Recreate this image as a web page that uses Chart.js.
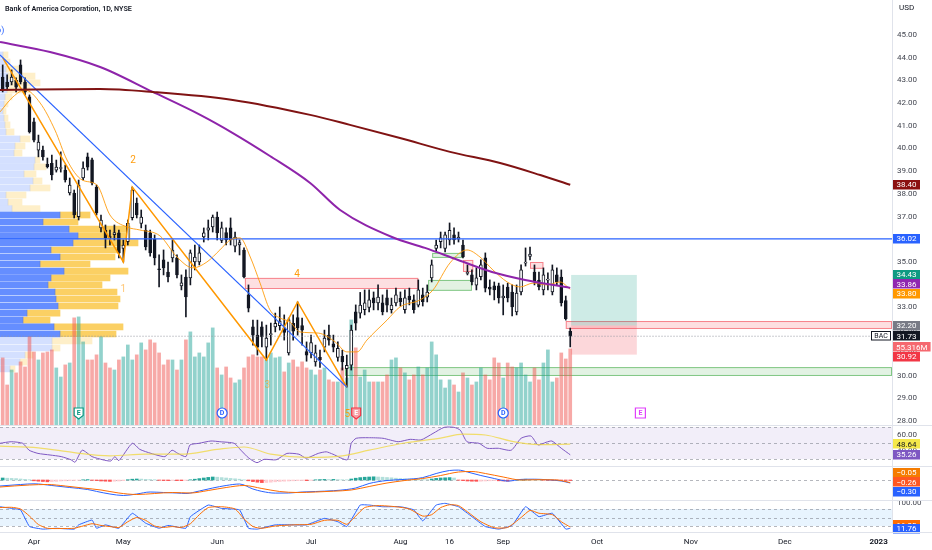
<!DOCTYPE html>
<html>
<head>
<meta charset="utf-8">
<title>BAC 1D</title>
<script src="https://cdn.jsdelivr.net/npm/chart.js@4.4.1/dist/chart.umd.min.js"></script>
<style>
  html, body { margin:0; padding:0; background:#ffffff; }
  #wrap { position:relative; width:932px; height:550px; overflow:hidden; background:#ffffff; }
  #wrap canvas { position:absolute; left:0; }
  .sep { position:absolute; background:#E0E3EB; }
</style>
</head>
<body>
<div id="wrap">
  <canvas id="vpCanvas" width="892" height="425" style="top:0px"></canvas>
  <canvas id="mainCanvas" width="932" height="425" style="top:0px"></canvas>
  <canvas id="rsiCanvas" width="932" height="41" style="top:425px"></canvas>
  <canvas id="macdCanvas" width="932" height="34" style="top:466px"></canvas>
  <canvas id="stochCanvas" width="932" height="50" style="top:500px"></canvas>
  <div class="sep" style="left:892px;top:0px;width:1px;height:532px"></div>
  <div class="sep" style="left:0px;top:425px;width:932px;height:1px"></div>
  <div class="sep" style="left:0px;top:466px;width:932px;height:1px"></div>
  <div class="sep" style="left:0px;top:500px;width:932px;height:1px"></div>
  <div class="sep" style="left:0px;top:532px;width:932px;height:1px"></div>
</div>
<script>
const FONT = 'Roboto, "Noto Sans", "DejaVu Sans", sans-serif';
Chart.defaults.font.family = FONT;

// ---------------- DATA ----------------
const open = [
43.15,42.93,42.93,43.00,43.68,42.93,42.27,41.17,39.93,39.93,
39.30,39.35,39.05,39.12,39.05,38.04,38.04,37.00,38.70,39.63,
39.50,38.30,36.50,36.40,36.10,36.20,36.28,35.60,35.90,36.95,
37.60,36.70,36.40,36.28,36.00,34.68,35.09,34.56,35.18,35.18,
33.95,34.34,34.30,35.00,35.00,36.10,36.40,36.55,36.98,35.95,
36.30,36.50,35.70,35.75,35.53,33.55,32.14,31.78,32.14,31.25,
31.80,32.14,32.20,32.10,31.00,32.30,32.55,32.20,31.05,31.00,
30.60,30.80,31.25,31.78,31.40,30.80,30.85,30.30,30.46,32.80,
32.75,32.90,33.00,33.42,33.20,33.20,33.42,32.90,33.20,33.40,
32.90,33.50,33.33,33.10,33.55,33.45,34.30,35.60,35.90,35.60,
35.97,36.20,36.00,35.75,34.50,34.43,33.98,34.35,35.18,33.90,
33.95,33.95,33.42,33.90,33.68,32.80,33.68,34.95,35.25,34.56,
34.20,33.77,34.20,33.68,34.43,34.34,33.30,31.95];
const high = [
43.68,43.24,43.46,43.11,43.90,43.11,42.36,41.34,40.59,40.11,
39.58,39.71,39.49,39.85,39.27,38.70,38.17,38.61,39.41,39.80,
39.58,38.39,37.07,36.63,36.41,36.63,36.41,35.97,36.85,38.30,
37.82,37.29,36.63,36.41,36.19,35.31,35.53,35.00,35.97,35.31,
34.43,34.65,35.53,35.75,35.75,36.50,36.85,37.07,37.20,36.76,
36.50,36.94,36.32,35.97,35.62,33.99,32.44,32.44,32.36,32.22,
32.31,32.75,33.02,32.67,32.53,32.67,33.24,32.53,31.48,31.78,
31.34,31.12,32.00,32.22,31.78,31.48,31.12,30.90,32.22,33.11,
33.66,33.77,33.77,33.68,33.99,33.55,33.77,33.41,33.85,33.68,
33.77,33.85,33.55,34.21,33.85,33.99,35.09,35.97,36.32,36.32,
36.72,36.50,36.32,35.97,34.87,34.65,34.74,35.09,35.40,34.21,
34.12,34.07,33.99,34.07,33.99,33.99,34.87,35.62,35.66,34.87,
34.56,34.74,34.52,34.87,34.74,34.65,33.50,32.09];
const low = [
42.49,42.58,42.80,42.49,42.84,42.36,40.68,40.29,39.63,39.49,
39.14,38.61,38.96,38.96,38.52,37.95,36.94,36.85,38.61,39.05,
38.39,37.07,36.32,35.62,35.75,35.97,35.18,35.00,35.75,36.85,
36.94,36.50,35.53,35.26,34.87,33.90,34.43,34.12,35.00,34.30,
33.77,32.58,33.99,34.65,34.87,35.88,35.97,36.32,35.97,35.85,
35.75,35.75,35.44,35.31,34.30,32.80,31.34,30.90,31.26,30.68,
31.34,31.92,32.00,31.56,30.90,31.56,31.78,31.34,30.63,30.77,
30.41,30.36,31.04,31.34,31.04,30.63,30.24,29.49,30.24,32.00,
32.53,32.67,32.80,32.89,32.89,32.67,32.80,32.75,33.06,33.06,
32.75,33.11,32.75,33.02,33.06,33.24,34.12,35.44,35.62,35.44,
35.75,35.79,35.88,35.18,34.43,33.99,33.77,34.21,33.68,33.55,
33.33,33.19,32.67,33.24,32.62,32.67,33.55,34.82,35.09,33.99,
33.77,33.55,33.77,33.55,33.99,33.06,32.44,31.26];
const close = [
42.58,42.71,43.15,42.70,42.93,42.49,40.73,40.37,40.28,39.63,
39.20,38.83,39.18,39.14,38.61,38.39,37.07,38.39,39.14,39.18,
38.48,37.16,36.85,36.06,36.08,36.30,35.40,35.75,36.70,38.17,
37.07,36.98,35.66,35.40,35.18,34.66,34.74,34.34,35.53,34.43,
34.08,33.46,35.40,35.22,35.40,36.28,36.50,36.98,36.28,36.50,
35.97,35.97,36.10,35.85,34.34,32.97,31.78,31.25,31.70,31.65,
31.82,32.30,32.40,31.90,32.45,31.95,32.10,32.00,30.90,31.45,
31.00,30.70,31.65,31.56,31.25,31.20,30.60,30.45,32.00,32.30,
33.10,33.20,33.33,33.20,33.46,32.80,33.10,33.10,33.55,33.25,
33.42,33.33,32.90,33.77,33.25,33.68,34.87,35.75,36.06,36.20,
36.40,35.97,36.10,35.22,34.52,34.12,34.30,34.87,33.85,33.80,
33.77,33.42,33.50,33.42,33.02,33.63,34.65,34.97,35.35,34.12,
33.90,34.43,34.22,34.65,34.12,33.20,32.50,31.73];
// volume in millions
const volume = [
48.8,29.1,40.0,37.9,45.9,42.2,64.1,53.1,47.3,52.4,
53.1,54.6,41.5,34.9,43.7,45.1,77.9,78.6,60.4,47.3,
47.3,51.0,64.1,45.1,41.5,40.0,47.3,49.5,58.2,47.3,
51.0,59.7,54.6,61.9,59.7,52.4,43.7,47.3,47.3,40.0,
47.3,61.9,67.7,49.5,52.4,49.5,59.7,70.6,41.5,36.4,
42.2,34.2,30.6,32.8,41.5,49.5,51.0,49.5,49.5,47.3,
52.4,48.8,49.5,38.6,45.1,47.3,42.2,45.9,41.5,40.0,
36.4,40.0,41.5,32.8,31.3,31.3,41.5,34.2,76.4,56.1,
34.9,40.0,31.3,31.3,31.3,31.3,36.4,47.3,48.8,41.5,
37.9,32.8,36.4,42.2,36.4,41.5,60.4,51.0,32.8,26.9,
32.8,29.1,24.0,37.9,34.2,29.1,31.3,41.5,36.4,32.8,
48.8,45.1,34.2,45.1,42.2,41.5,45.1,36.4,31.3,41.5,
32.8,45.1,54.6,31.3,34.2,52.4,48.0,55.316];

// Volume profile rows (price level, up volume, down volume)
const vpPrice = [44.12,43.81,43.50,43.19,42.89,42.58,42.27,41.96,41.65,41.34,41.04,40.73,40.42,40.11,39.80,39.49,39.19,38.88,38.57,38.26,37.95,37.64,37.35,
  37.07,36.76,36.45,36.15,35.84,35.53,35.22,34.91,34.60,34.30,33.99,33.68,33.37,33.06,32.75,32.44,32.14,31.83,
  31.52,31.21,30.90,30.59,30.29];
const vpUp = [3,5,6,8,10,7,5,4,3,4,5,6,20,15,14,35,34,24,33,30,6,8,12,
  60,43,69,78,73,51,60,40,64,51,48,55,56,58,27,23,54,60,
  52,52,25,20,10];
const vpDown = [5,5,14,27,30,23,7,4,3,4,5,8,10,10,8,5,12,12,9,20,20,14,28,
  30,35,61,52,65,69,55,50,64,59,54,62,64,60,33,27,69,56,
  40,8,8,7,5];
const vaHigh = 37.2, vaLow = 31.7;

// Moving averages (bar index, price)
const ma100X = [-0.6,10.6,21.8,33.6,44.2,51.5,59.8,68.8,75.5,87.1,94.5,101.9,109.5,116.9,127];
const ma100Y = [44.69,44.25,43.59,42.49,41.48,40.68,39.67,38.48,37.29,36.10,35.62,35.09,34.56,34.21,33.86];
const ma200X = [-0.6,21.8,33.6,51.5,68.8,77.7,88.9,100.1,111.3,120.3,127];
const ma200Y = [42.58,42.62,42.49,42.14,41.48,41.04,40.46,39.85,39.36,38.83,38.40];
const emaX = [-0.6,2.3,5,8.4,11.7,14.4,17.8,21.1,24,27.8,30.7,35.2,39,42.6,45.7,48.6,50.9,53.1,55.4,57.6,59.8,62.1,64.3,66.5,70.6,74.4,77,79.3,81.5,86,88.9,93.4,96.3,100.1,103.9,106.8,109.7,112.9,115.8,118.7,121.8,124.7,127];
const emaY = [41.61,42.27,42.58,42.0,40.81,39.49,38.61,38.39,37.07,36.54,36.41,36.15,35.22,34.74,35.0,35.53,35.97,36.06,35.22,34.07,32.89,32.53,32.36,31.92,31.87,31.48,31.04,31.04,31.56,32.44,33.02,33.33,33.77,34.96,35.53,35.22,34.65,34.12,33.90,34.07,33.99,34.12,33.80];

// Drawings
const trendX = [-0.6, 77];
const trendY = [44.12, 29.49];
const hLineLevel = 36.02;
const waveX = [0, 27, 29, 59, 66, 77];
const waveY = [44.0, 35.0, 38.30, 30.68, 33.24, 29.49];
const waveLabel = ['1','2','3','4','5'];
const waveLabelX = [27, 29.2, 59.2, 65.9, 77.1];
const waveLabelY = [33.81, 39.49, 29.54, 34.47, 28.30];
const zoneX1 = [54.2, 96.1, 95.2, 103, 118, 126, 76.6];
const zoneX2 = [93, 103.0, 105, 105.3, 121, 199, 199];
const zoneTop = [34.30, 35.40, 34.21, 35.09, 35.00, 32.40, 30.37];
const zoneBot = [33.81, 35.18, 33.73, 34.56, 34.70, 32.05, 29.98];
const zoneKind = ['supply','demand','demand','supply','supply','supply','demand'];
const longX = [127.2, 141.9];
const longTarget = 34.43, longEntry = 32.20, longStop = 30.92;
const iconX = [17, 49.1, 79.1, 112, 142.7];
const iconKind = ['earnPast','div','earnRed','div','earnFuture'];

// Price axis ticks
const priceTicks = [28,29,30,31,32,33,34,35,36,37,38,39,40,41,42,43,44,45];

// RSI
const rsiX = [-0.6,1.9,4.5,5.9,7.9,10.6,13.1,15.3,16.2,17.8,20,22.4,24.2,25.1,26,29,30.7,33.2,36.3,37.9,39.2,41,41.9,43.9,46.6,48.6,51.8,53.3,55.1,56.9,58.5,61.2,63.6,66.3,67.9,70.6,72.4,73.9,77.1,78,79.1,81.8,85.1,88.5,91.2,93.6,96.3,98.8,101,102.4,103.9,106.6,108.4,110.9,113.8,116,118.2,119.8,121.6,122.9,125,127];
const rsiY = [49.6,51.6,49.6,41,37,35,33,29,26,41,33,29,27.5,33,28,49.6,42,37,33,41,37,33,47.5,49.6,52.5,51.6,49.6,41,31,25.4,29.6,29,37,36,31,37,39,36,29,49.6,55.9,56.6,55.9,51.6,54.6,53.8,62,69.6,69.6,66,51.6,49.6,43.4,43.4,41,55.9,58.8,47.5,50.9,52.5,43.4,35.26];
const rsiMaX = [-0.6,8,16,24,32,40,48,54,60,68,76,82,90,98,103,108,114,120,127];
const rsiMaY = [46,44,38,34,36,36,42,45,36,32,34,41,50,56,61,60,52,48,48.64];
const rsiBands = [70, 50, 30];
const rsiTicks = [60, 40];

// MACD
const macdX = [-0.6,4,7,11,15,19,21,24,27,30,33,36,39,41,44,47,50,53,56,58,61,64,67,70,74,77,79,82,86,90,94,97,100,102,104,107,110,113,116,119,122,125,127];
const macdY = [-0.6,-0.45,-0.38,-0.55,-0.75,-0.95,-1.14,-1.4,-1.55,-1.4,-1.2,-1.25,-1.3,-1.35,-1.1,-0.8,-0.55,-0.4,-0.9,-1.14,-1.31,-1.3,-1.2,-1.15,-1.07,-0.95,-0.8,-0.35,-0.05,0.06,0.24,0.65,0.95,0.99,0.8,0.45,0.15,-0.11,0.06,0.08,0.02,-0.1,-0.30];
const signalX = [-0.6,6,10,14,18,22,26,30,34,38,42,46,50,54,58,62,66,70,74,78,82,86,90,94,98,102,105,108,112,116,120,124,127];
const signalY = [-0.7,-0.5,-0.45,-0.6,-0.8,-1.0,-1.3,-1.45,-1.35,-1.25,-1.3,-1.05,-0.75,-0.55,-0.85,-1.15,-1.25,-1.2,-1.12,-1.0,-0.65,-0.3,-0.05,0.15,0.45,0.8,0.85,0.65,0.3,0.0,0.03,0.0,-0.26];
const macdHist = [
0.2,0.18,0.16,0.14,0.1,0.07,0.03,
-0.08,-0.12,-0.15,-0.18,-0.16,-0.14,-0.1,-0.08,-0.06,-0.04,-0.02,
0.02,0.04,
-0.03,-0.06,-0.1,-0.12,-0.14,-0.12,-0.1,-0.07,
0.03,0.08,0.1,0.09,0.07,0.05,0.03,
-0.03,-0.05,-0.06,-0.05,-0.06,-0.07,-0.04,
0.02,0.08,0.14,0.2,0.26,0.3,0.28,
0.24,0.2,0.16,0.12,0.08,0.02,
-0.08,-0.16,-0.22,-0.26,-0.25,-0.22,-0.18,
-0.15,-0.12,-0.1,-0.08,-0.07,-0.05,-0.06,-0.04,
0.02,0.04,0.06,0.05,0.06,0.04,0.03,0.02,
0.1,0.18,0.24,0.28,0.3,0.32,0.3,0.28,0.25,
0.22,0.18,0.15,0.12,0.1,0.08,0.06,0.05,0.04,
0.1,0.16,0.2,0.22,0.24,0.2,
-0.02,-0.06,-0.1,-0.12,-0.13,-0.12,-0.1,-0.08,-0.06,
-0.08,-0.1,-0.12,-0.1,
0.02,0.05,0.08,0.07,0.05,0.03,
-0.01,-0.02,-0.02,-0.03,-0.03,-0.04,-0.05];

// Stochastic
const stKX = [-0.6,2,4,6,9,12,16,17,20,21,23,26,29,32,35,37,41,42,46,49,53,55,57,61,65,68,72,75,77,80,82,85,89,92,94,97,99,102,105,108,111,114,117,120,123,126,127];
const stKY = [88,82,77,18,9,12,9,24,41,12,24,12,65,30,12,22,12,53,94,82,77,12,9,24,24,24,47,35,18,94,94,88,88,77,38,94,100,88,53,18,9,22,88,53,65,9,11.76];
const stDX = [-0.6,2,4,6,8,10,13,16,18,20,22,24,26,28,30,32,34,36,38,40,42,44,46,49,52,54,56,58,61,65,69,72,75,77,79,81,84,88,91,94,96,98,100,102,104,107,110,113,116,118,120,123,125,127];
const stDY = [85,86,80,55,25,12,11,12,20,28,22,18,15,35,50,40,20,15,18,15,28,60,85,88,80,45,18,12,20,24,26,40,40,26,55,85,92,88,80,55,60,85,95,92,70,35,14,15,50,75,65,60,35,16];
const stochBands = [80, 50, 20];
const stochTicks = [100];

// Time axis
const xTickIdx = [7, 27, 48, 69, 89, 100, 112, 133, 154, 175, 196];
const xTickLabels = ['Apr','May','Jun','Jul','Aug','16','Sep','Oct','Nov','Dec','2023'];

// ---------------- LAYOUT CONSTANTS ----------------
const X_MIN = -0.6, X_MAX = 199;
const P_MIN = 27.82, P_MAX = 46.54;
const AXIS_W = 40;
const TAG_H = 9.5;

const N = close.length;
const isUp = close.map((c, i) => c >= open[i]);
const pts = (xs, ys) => xs.map((x, k) => ({ x: x, y: ys[k] }));
const last = a => a[a.length - 1];
function fixAxis(s) { s.width = AXIS_W; s.paddingTop = 0; s.paddingBottom = 0; s.paddingLeft = 0; s.paddingRight = 0; }
const fmt = v => (v < 0 ? '\u2212' : '') + Math.abs(v).toFixed(2);

function tagBox(ctx, x, yc, text, bg, fg) {
  ctx.font = '8px ' + FONT;
  const tw = ctx.measureText(text).width;
  const w = Math.max(27, tw + 6);
  ctx.fillStyle = bg;
  ctx.fillRect(x, Math.round(yc - TAG_H / 2), w, TAG_H);
  ctx.fillStyle = fg;
  ctx.textAlign = 'center';
  ctx.textBaseline = 'middle';
  ctx.fillText(text, x + w / 2, yc + 0.5);
}
function spread(items, h) {
  items.sort((a, b) => a.y - b.y);
  let cl = items.map(it => ({ its: [it] }));
  const center = c => c.its.reduce((s, it) => s + it.y, 0) / c.its.length;
  const top = c => center(c) - c.its.length * h / 2;
  let merged = true;
  while (merged) {
    merged = false;
    for (let i = 0; i < cl.length - 1; i++) {
      if (top(cl[i]) + cl[i].its.length * h > top(cl[i + 1]) + 0.01) {
        cl[i].its = cl[i].its.concat(cl[i + 1].its);
        cl.splice(i + 1, 1);
        merged = true;
        break;
      }
    }
  }
  cl.forEach(c => { const t = top(c); c.its.forEach((it, k) => { it.py = t + h * (k + 0.5); }); });
  return items;
}
function drawIcon(ctx, cx, cy, kind) {
  ctx.save();
  ctx.font = 'bold 7px ' + FONT;
  ctx.textAlign = 'center';
  ctx.textBaseline = 'middle';
  ctx.lineWidth = 1.2;
  if (kind === 'div') {
    ctx.beginPath(); ctx.arc(cx, cy, 5, 0, Math.PI * 2);
    ctx.fillStyle = '#ffffff'; ctx.fill();
    ctx.strokeStyle = '#2962FF'; ctx.stroke();
    ctx.fillStyle = '#2962FF'; ctx.fillText('D', cx, cy + 0.5);
  } else {
    const col = kind === 'earnPast' ? '#089981' : (kind === 'earnRed' ? '#F23645' : '#E040FB');
    ctx.beginPath();
    if (kind === 'earnFuture') {
      ctx.rect(cx - 5, cy - 5, 10, 10);
    } else {
      ctx.moveTo(cx - 4.5, cy - 5); ctx.lineTo(cx + 4.5, cy - 5); ctx.lineTo(cx + 4.5, cy + 2.5);
      ctx.lineTo(cx, cy + 6); ctx.lineTo(cx - 4.5, cy + 2.5); ctx.closePath();
    }
    if (kind === 'earnRed') {
      ctx.fillStyle = '#F7A0A6'; ctx.fill(); ctx.strokeStyle = col; ctx.stroke();
      ctx.fillStyle = '#ffffff'; ctx.fillText('E', cx, cy);
    } else {
      ctx.fillStyle = '#ffffff'; ctx.fill(); ctx.strokeStyle = col; ctx.stroke();
      ctx.fillStyle = col; ctx.fillText('E', cx, cy);
    }
  }
  ctx.restore();
}

// ---------------- VOLUME PROFILE (behind) ----------------
const inVA = p => p <= vaHigh && p >= vaLow;
new Chart(document.getElementById('vpCanvas'), {
  type: 'bar',
  data: { datasets: [
    { data: pts(vpUp, vpPrice), backgroundColor: vpPrice.map(p => inVA(p) ? 'rgba(41,98,255,0.72)' : 'rgba(41,98,255,0.2)'), barThickness: 6, borderWidth: 0 },
    { data: pts(vpDown, vpPrice), backgroundColor: vpPrice.map(p => inVA(p) ? 'rgba(250,190,40,0.72)' : 'rgba(250,190,40,0.25)'), barThickness: 6, borderWidth: 0 }
  ]},
  options: {
    indexAxis: 'y', responsive: false, animation: false,
    layout: { padding: 0, autoPadding: false },
    plugins: { legend: { display: false }, tooltip: { enabled: false } },
    scales: {
      x: { type: 'linear', min: 0, max: 892, display: false, stacked: true },
      y: { type: 'linear', min: P_MIN, max: P_MAX, display: false, stacked: true, offset: false }
    }
  }
});

// ---------------- MAIN PRICE PANE ----------------
const mainDecor = {
  id: 'mainDecor',
  beforeDatasetsDraw(chart) {
    const { ctx, chartArea: a, scales: { x, y } } = chart;
    ctx.save();
    ctx.beginPath(); ctx.rect(a.left, a.top, a.right - a.left, a.bottom - a.top); ctx.clip();
    for (let k = 0; k < zoneX1.length; k++) {
      const x1 = x.getPixelForValue(zoneX1[k]), x2 = Math.min(x.getPixelForValue(zoneX2[k]), a.right);
      const y1 = y.getPixelForValue(zoneTop[k]), y2 = y.getPixelForValue(zoneBot[k]);
      const red = zoneKind[k] === 'supply';
      ctx.fillStyle = red ? 'rgba(242,54,69,0.16)' : 'rgba(76,175,80,0.16)';
      ctx.strokeStyle = red ? 'rgba(242,54,69,0.55)' : 'rgba(76,175,80,0.65)';
      ctx.lineWidth = 1;
      ctx.fillRect(x1, y1, x2 - x1, y2 - y1);
      ctx.strokeRect(x1 + 0.5, y1 + 0.5, x2 - x1 - 1, y2 - y1 - 1);
    }
    const lx1 = x.getPixelForValue(longX[0]), lx2 = x.getPixelForValue(longX[1]);
    const yT = y.getPixelForValue(longTarget), yE = y.getPixelForValue(longEntry), yS = y.getPixelForValue(longStop);
    ctx.fillStyle = 'rgba(8,153,129,0.2)';
    ctx.fillRect(lx1, yT, lx2 - lx1, yE - yT);
    ctx.fillStyle = 'rgba(242,54,69,0.2)';
    ctx.fillRect(lx1, yE, lx2 - lx1, yS - yE);
    ctx.restore();
  },
  afterDatasetsDraw(chart) {
    const { ctx, chartArea: a, scales: { x, y } } = chart;
    ctx.save();
    ctx.font = '10px ' + FONT;
    ctx.textAlign = 'center';
    ctx.textBaseline = 'middle';
    waveLabel.forEach((t, k) => {
      ctx.fillStyle = (t === '1' || t === '3') ? 'rgba(255,152,0,0.55)' : 'rgba(255,152,0,0.95)';
      ctx.fillText(t, x.getPixelForValue(waveLabelX[k]), y.getPixelForValue(waveLabelY[k]));
    });
    iconX.forEach((v, k) => drawIcon(ctx, x.getPixelForValue(v), a.bottom - 12, iconKind[k]));
    ctx.restore();
  },
  afterDraw(chart) {
    const { ctx, chartArea: a, scales: { y, yVol } } = chart;
    ctx.save();
    // title
    const title = 'Bank of America Corporation, 1D, NYSE';
    ctx.font = '600 8px ' + FONT;
    const tw = ctx.measureText(title).width;
    const fs = Math.min(8.5, 8 * 127 / tw);
    ctx.font = '600 ' + fs.toFixed(2) + 'px ' + FONT;
    ctx.fillStyle = '#131722';
    ctx.textAlign = 'left'; ctx.textBaseline = 'middle';
    ctx.fillText(title, 5, 9);
    ctx.fillStyle = '#2962FF';
    ctx.font = '9px ' + FONT;
    ctx.fillText('o)', -4, 31);
    // axis unit
    ctx.fillStyle = '#131722';
    ctx.font = '8px ' + FONT;
    ctx.fillText('USD', a.right + 7, 8);
    // axis tags
    const tagVals = [last(ma200Y), hLineLevel, longTarget, last(ma100Y), last(emaY), longEntry, last(close), last(volume), longStop];
    const tagAxis = ['p','p','p','p','p','p','p','v','p'];
    const tagBg = ['#8B1111','#2962FF','#0E9A82','#9027B0','#FF9800','#787B86','#131722','#F5686F','#F23645'];
    const items = tagVals.map((v, k) => ({
      y: tagAxis[k] === 'v' ? yVol.getPixelForValue(v) : y.getPixelForValue(v),
      text: tagAxis[k] === 'v' ? v.toFixed(3) + 'M' : v.toFixed(2),
      bg: tagBg[k], isLast: k === 6
    }));
    spread(items, TAG_H);
    items.forEach(it => {
      tagBox(ctx, a.right + 1, it.py, it.text, it.bg, '#ffffff');
      if (it.isLast) {
        ctx.fillStyle = '#ffffff';
        ctx.fillRect(a.right - 21, Math.round(it.py - TAG_H / 2), 20, TAG_H);
        ctx.strokeStyle = '#131722'; ctx.lineWidth = 1;
        ctx.strokeRect(a.right - 20.5, Math.round(it.py - TAG_H / 2) + 0.5, 19, TAG_H - 1);
        ctx.fillStyle = '#131722'; ctx.font = '7px ' + FONT;
        ctx.textAlign = 'center'; ctx.textBaseline = 'middle';
        ctx.fillText('BAC', a.right - 11, it.py + 0.5);
      }
    });
    ctx.restore();
  }
};

const wickData = close.map((c, i) => ({ x: i, y: [low[i], high[i]] }));
const bodyData = close.map((c, i) => ({ x: i, y: [Math.min(open[i], c), Math.max(open[i], c)] }));
const volData = volume.map((v, i) => ({ x: i, y: v }));
const lineDs = (data, color, width, extra) => Object.assign({ type: 'line', data: data, borderColor: color, borderWidth: width, pointRadius: 0, fill: false, order: 0, yAxisID: 'y' }, extra || {});

new Chart(document.getElementById('mainCanvas'), {
  type: 'bar',
  data: { datasets: [
    lineDs(pts(ma200X, ma200Y), '#801313', 2, { cubicInterpolationMode: 'monotone' }),
    lineDs(pts(ma100X, ma100Y), '#8E24AA', 2, { cubicInterpolationMode: 'monotone' }),
    lineDs(pts(emaX, emaY), 'rgba(255,152,0,0.85)', 1, { cubicInterpolationMode: 'monotone' }),
    lineDs(pts(trendX, trendY), '#2962FF', 1.2),
    lineDs([{ x: X_MIN - 1, y: hLineLevel }, { x: X_MAX + 1, y: hLineLevel }], '#2962FF', 1.2),
    lineDs(pts(waveX, waveY), '#FF9800', 1.5),
    lineDs([{ x: X_MIN - 1, y: last(close) }, { x: X_MAX + 1, y: last(close) }], '#9598A1', 1, { borderDash: [1, 2] }),
    { type: 'bar', data: bodyData, backgroundColor: isUp.map(u => u ? '#ffffff' : '#131722'), borderColor: '#131722', borderWidth: 1, borderSkipped: false, barThickness: 3, minBarLength: 1, grouped: false, order: 1, yAxisID: 'y' },
    { type: 'bar', data: wickData, backgroundColor: '#131722', barThickness: 1, grouped: false, order: 2, yAxisID: 'y' },
    { type: 'bar', data: volData, backgroundColor: isUp.map(u => u ? 'rgba(38,166,154,0.5)' : 'rgba(239,83,80,0.5)'), barThickness: 3, grouped: false, order: 20, yAxisID: 'yVol' }
  ]},
  options: {
    responsive: false, animation: false,
    layout: { padding: 0, autoPadding: false },
    plugins: { legend: { display: false }, tooltip: { enabled: false } },
    scales: {
      x: { type: 'linear', min: X_MIN, max: X_MAX, display: false, offset: false },
      y: {
        type: 'linear', position: 'right', min: P_MIN, max: P_MAX,
        grid: { display: false, drawTicks: false }, border: { display: false },
        ticks: { padding: 5, color: '#434651', font: { size: 8 }, callback: v => Number(v).toFixed(2) },
        afterBuildTicks: s => { s.ticks = priceTicks.map(v => ({ value: v })); },
        afterFit: fixAxis
      },
      yVol: { type: 'linear', display: false, min: 0, max: 309 }
    }
  },
  plugins: [mainDecor]
});

// ---------------- LOWER PANES ----------------
function paneDecor(id, bands, fillColor, tags) {
  return {
    id: id,
    beforeDatasetsDraw(chart) {
      const { ctx, chartArea: a, scales: { y } } = chart;
      ctx.save();
      if (bands.length === 3 && fillColor) {
        const y1 = y.getPixelForValue(bands[0]), y2 = y.getPixelForValue(bands[2]);
        ctx.fillStyle = fillColor;
        ctx.fillRect(a.left, y1, a.right - a.left, y2 - y1);
      }
      ctx.strokeStyle = 'rgba(120,123,134,0.55)';
      ctx.lineWidth = 1;
      ctx.setLineDash([3, 3]);
      bands.forEach(b => {
        const yy = Math.round(y.getPixelForValue(b)) + 0.5;
        ctx.beginPath(); ctx.moveTo(a.left, yy); ctx.lineTo(a.right, yy); ctx.stroke();
      });
      ctx.restore();
    },
    afterDraw(chart) {
      const { ctx, chartArea: a, scales: { y } } = chart;
      ctx.save();
      const items = tags.map(t => ({ y: y.getPixelForValue(t.v) + (t.dy || 0), text: fmt(t.v), bg: t.bg, fg: t.fg }));
      if (id === 'stochDecor') {
        items.forEach(it => { it.py = it.y; });
      } else {
        spread(items, TAG_H);
      }
      items.forEach(it => tagBox(ctx, a.right + 1, it.py, it.text, it.bg, it.fg));
      ctx.restore();
    }
  };
}
function paneOptions(yMin, yMax, tickVals, showX) {
  return {
    responsive: false, animation: false,
    layout: { padding: 0, autoPadding: false },
    plugins: { legend: { display: false }, tooltip: { enabled: false } },
    scales: {
      x: showX ? {
        type: 'linear', min: X_MIN, max: X_MAX, offset: false,
        grid: { display: false, drawTicks: false }, border: { display: false },
        ticks: {
          autoSkip: false, maxRotation: 0, padding: 5, color: '#131722',
          font: ctx => ({ size: 8, weight: (ctx.tick && ctx.tick.value === 196) ? 'bold' : 'normal' }),
          callback: (v, i) => xTickLabels[i]
        },
        afterBuildTicks: s => { s.ticks = xTickIdx.map(v => ({ value: v })); },
        afterFit: s => { s.height = 18; s.paddingLeft = 0; s.paddingRight = 0; }
      } : { type: 'linear', min: X_MIN, max: X_MAX, display: false, offset: false },
      y: {
        type: 'linear', position: 'right', min: yMin, max: yMax,
        grid: { display: false, drawTicks: false }, border: { display: false },
        ticks: { padding: 5, color: '#434651', font: { size: 8 }, callback: v => Number(v).toFixed(2) },
        afterBuildTicks: s => { s.ticks = tickVals.map(v => ({ value: v })); },
        afterFit: fixAxis
      }
    }
  };
}

// RSI
new Chart(document.getElementById('rsiCanvas'), {
  type: 'line',
  data: { datasets: [
    { data: pts(rsiMaX, rsiMaY), borderColor: 'rgba(240,215,60,0.75)', borderWidth: 1.2, pointRadius: 0, cubicInterpolationMode: 'monotone' },
    { data: pts(rsiX, rsiY), borderColor: '#7E57C2', borderWidth: 1, pointRadius: 0, tension: 0.2 }
  ]},
  options: paneOptions(21.25, 72.5, rsiTicks, false),
  plugins: [paneDecor('rsiDecor', rsiBands, 'rgba(126,87,194,0.1)', [
    { v: last(rsiMaY), bg: '#F5E84A', fg: '#131722' },
    { v: last(rsiY), bg: '#7E57C2', fg: '#ffffff' }
  ])]
});

// MACD
const histColors = macdHist.map((h, i) => {
  const p = i ? macdHist[i - 1] : h;
  if (h >= 0) return h >= p ? '#26A69A' : '#B2DFDB';
  return h <= p ? '#FF5252' : '#FFCDD2';
});
new Chart(document.getElementById('macdCanvas'), {
  type: 'bar',
  data: { datasets: [
    { type: 'line', data: pts(signalX, signalY), borderColor: '#FF6D00', borderWidth: 1, pointRadius: 0, cubicInterpolationMode: 'monotone', order: 0 },
    { type: 'line', data: pts(macdX, macdY), borderColor: '#2962FF', borderWidth: 1, pointRadius: 0, cubicInterpolationMode: 'monotone', order: 0 },
    { type: 'bar', data: macdHist.map((h, i) => ({ x: i, y: h })), backgroundColor: histColors, barThickness: 3, grouped: false, order: 5 }
  ]},
  options: paneOptions(-2.0, 1.4, [], false),
  plugins: [paneDecor('macdDecor', [0], null, [
    { v: last(macdHist), bg: '#F57C00', fg: '#ffffff' },
    { v: last(signalY), bg: '#FF5722', fg: '#ffffff' },
    { v: last(macdY), bg: '#2962FF', fg: '#ffffff' }
  ])]
});

// Stochastic
new Chart(document.getElementById('stochCanvas'), {
  type: 'line',
  data: { datasets: [
    { data: pts(stDX, stDY), borderColor: '#FF6D00', borderWidth: 1, pointRadius: 0, tension: 0.2 },
    { data: pts(stKX, stKY), borderColor: '#2962FF', borderWidth: 1, pointRadius: 0, tension: 0.1 }
  ]},
  options: paneOptions(-1.2, 111.8, stochTicks, true),
  plugins: [paneDecor('stochDecor', stochBands, 'rgba(33,150,243,0.1)', [
    { v: last(stDY), bg: '#FF6D00', fg: '#ffffff', dy: -2 },
    { v: last(stKY), bg: '#2962FF', fg: '#ffffff' }
  ])]
});
</script>
</body>
</html>
